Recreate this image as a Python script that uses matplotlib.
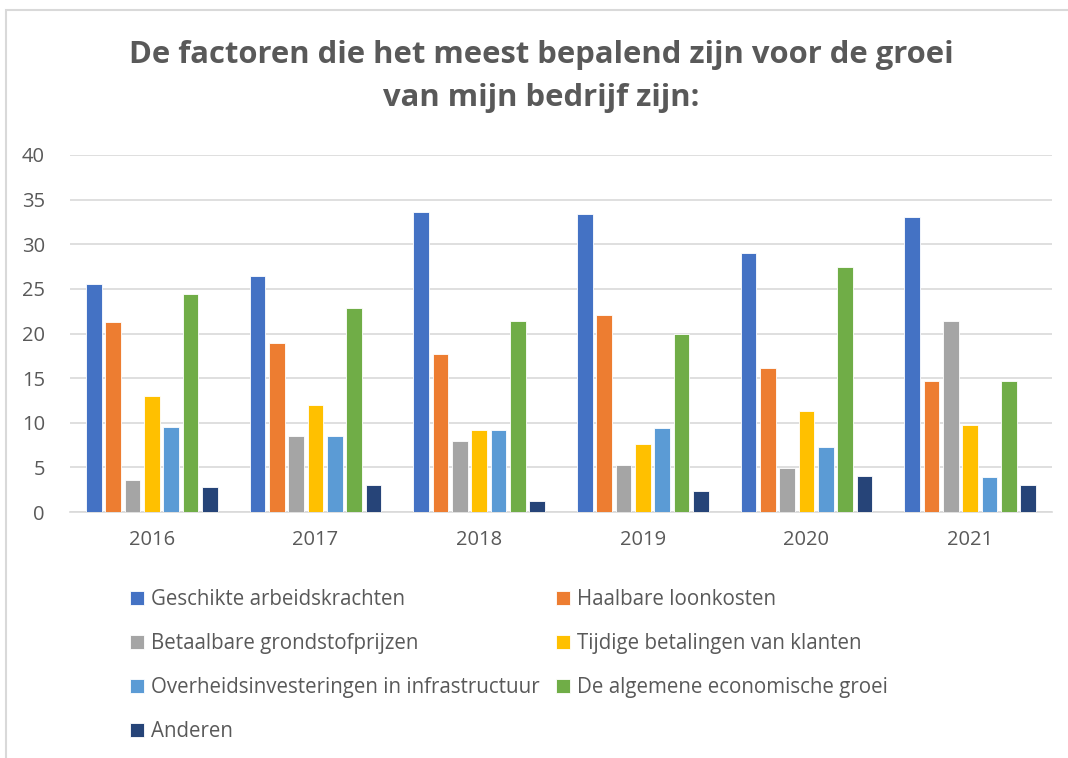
import matplotlib
matplotlib.use('Agg')
import matplotlib.pyplot as plt
from matplotlib.patches import Rectangle
import numpy as np

years = ['2016', '2017', '2018', '2019', '2020', '2021']
series_names = ['Geschikte arbeidskrachten', 'Haalbare loonkosten',
                'Betaalbare grondstofprijzen', 'Tijdige betalingen van klanten',
                'Overheidsinvesteringen in infrastructuur', 'De algemene economische groei',
                'Anderen']
geschikt = [25.5, 26.4, 33.6, 33.4, 29.0, 33.0]
loonkosten = [21.3, 18.9, 17.7, 22.1, 16.1, 14.7]
grondstof = [3.6, 8.5, 8.0, 5.3, 4.9, 21.4]
betalingen = [13.0, 12.0, 9.2, 7.6, 11.3, 9.7]
overheid = [9.5, 8.5, 9.2, 9.4, 7.3, 3.9]
groei = [24.4, 22.9, 21.4, 19.9, 27.4, 14.7]
anderen = [2.8, 3.0, 1.2, 2.4, 4.0, 3.0]

colors = ['#4472C4', '#ED7D31', '#A5A5A5', '#FFC000', '#5B9BD5', '#70AD47', '#264478']
values = [geschikt, loonkosten, grondstof, betalingen, overheid, groei, anderen]

plt.rcParams['font.family'] = ['Open Sans', 'DejaVu Sans']
txt = '#595959'

fig = plt.figure(figsize=(10.68, 7.58), dpi=100)
ax = fig.add_axes([70/1068, 1-512/758, 982/1068, 357/758])

x = np.arange(len(years))
pitch = 0.118
w = 0.095
bars = []
for i, (vals, c) in enumerate(zip(values, colors)):
    b = ax.bar(x + (i - 3) * pitch, vals, w, color=c, edgecolor='white', linewidth=0.6,
               label=series_names[i], zorder=3)
    bars.append(b)

ax.set_xlim(-0.5, 5.5)
ax.set_ylim(0, 40)
ax.set_yticks(range(0, 41, 5))
ax.set_xticks(x)
ax.set_xticklabels(years)
ax.yaxis.grid(True, color='#D9D9D9', linewidth=1.2, zorder=0)
for s in ['top', 'right', 'left']:
    ax.spines[s].set_visible(False)
ax.spines['bottom'].set_color('#D9D9D9')
ax.spines['bottom'].set_linewidth(1.2)
ax.tick_params(length=0, labelsize=14.5, colors=txt)
ax.tick_params(axis='x', pad=13)
ax.tick_params(axis='y', pad=18)

fig.text(541/1068, 1-55/758, 'De factoren die het meest bepalend zijn voor de groei',
         ha='center', va='center', fontsize=22.3, fontweight='bold', color=txt)
fig.text(541/1068, 1-98/758, 'van mijn bedrijf zijn:',
         ha='center', va='center', fontsize=22.3, fontweight='bold', color=txt)

# two legend columns, filled row by row
left_idx = [0, 2, 4, 6]
right_idx = [1, 3, 5]
leg_kw = dict(loc='upper left', frameon=False, fontsize=14.8, labelcolor=txt,
              handlelength=0.7, handleheight=0.7, handletextpad=0.3,
              labelspacing=1.12, borderaxespad=0, borderpad=0)
leg1 = fig.legend([bars[i] for i in left_idx], [series_names[i] for i in left_idx],
                  bbox_to_anchor=(130/1068, 1-589/758), **leg_kw)
leg2 = fig.legend([bars[i] for i in right_idx], [series_names[i] for i in right_idx],
                  bbox_to_anchor=(556/1068, 1-589/758), **leg_kw)

fig.patches.append(Rectangle((6/1068, -0.1), 1.1, 1 - 10/758 + 0.1, transform=fig.transFigure,
                             fill=False, edgecolor='#D9D9D9', linewidth=1.5))

fig.savefig('out.png', dpi=100)
